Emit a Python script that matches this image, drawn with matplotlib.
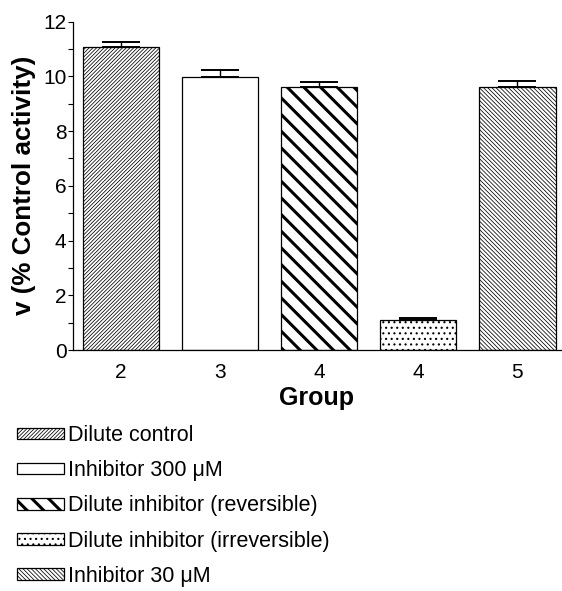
import matplotlib
matplotlib.use('Agg')
import matplotlib.pyplot as plt
from matplotlib.patches import Patch
from matplotlib.ticker import MultipleLocator

plt.rcParams['font.family'] = ['Liberation Sans', 'DejaVu Sans']

# данные
groups = ['2', '3', '4', '4', '5']
values = [11.06, 9.98, 9.63, 1.10, 9.63]
errors = [0.19, 0.24, 0.15, 0.06, 0.21]
names = ['Dilute control',
         'Inhibitor 300 \u03bcM',
         'Dilute inhibitor (reversible)',
         'Dilute inhibitor (irreversible)',
         'Inhibitor 30 \u03bcM']
hatches = ['/' * 9, '', '\\' * 2, '...', '\\' * 8]
hatch_lw = [0.55, 0.6, 2.2, 0.8, 0.55]

fig = plt.figure(figsize=(5.62, 5.91), dpi=100)
ax = fig.add_axes([73 / 562, 1 - 350 / 591, 488 / 562, 328.3 / 591])

x = list(range(len(values)))
bars = ax.bar(x, values, width=0.77, color='white', edgecolor='black',
              linewidth=0.9, zorder=2)
for b, h, lw in zip(bars, hatches, hatch_lw):
    b.set_hatch(h)
    if hasattr(b, 'set_hatch_linewidth'):
        b.set_hatch_linewidth(lw)

ax.errorbar(x, values, yerr=[[0] * len(errors), errors], fmt='none',
            ecolor='black', elinewidth=1.0, capsize=14, capthick=1.4,
            zorder=3)

ax.set_xlim(-0.485, 4.44)
ax.set_ylim(0, 12)
ax.set_xticks(x)
ax.set_xticklabels(groups)
ax.yaxis.set_major_locator(MultipleLocator(2))
ax.yaxis.set_minor_locator(MultipleLocator(1))
ax.tick_params(axis='x', length=0, labelsize=15, pad=9.5)
ax.tick_params(axis='y', which='both', direction='out', length=3.6,
               width=0.8, labelsize=15, pad=1)
for s in ('top', 'right'):
    ax.spines[s].set_visible(False)
for s in ('left', 'bottom'):
    ax.spines[s].set_linewidth(0.9)

ax.set_ylabel('v (% Control activity)', fontsize=18.7, fontweight='bold')
ax.yaxis.set_label_coords(-0.075, 0.5)
ax.set_xlabel('Group', fontsize=18, fontweight='bold')
ax.xaxis.set_label_coords(0.5, -0.11)

handles = []
for h in hatches:
    p = Patch(facecolor='white', edgecolor='black', hatch=h, linewidth=0.9)
    handles.append(p)
leg = fig.legend(handles, names, loc='upper left',
                 bbox_to_anchor=(17 / 562, 1 - 425 / 591),
                 frameon=False, fontsize=15.5, handlelength=2.2,
                 handleheight=0.45, handletextpad=0.15, labelspacing=0.66,
                 borderpad=0, borderaxespad=0)
for p, lw in zip(leg.get_patches(), hatch_lw):
    if hasattr(p, 'set_hatch_linewidth'):
        p.set_hatch_linewidth(lw)

fig.savefig('out.png', dpi=100)
